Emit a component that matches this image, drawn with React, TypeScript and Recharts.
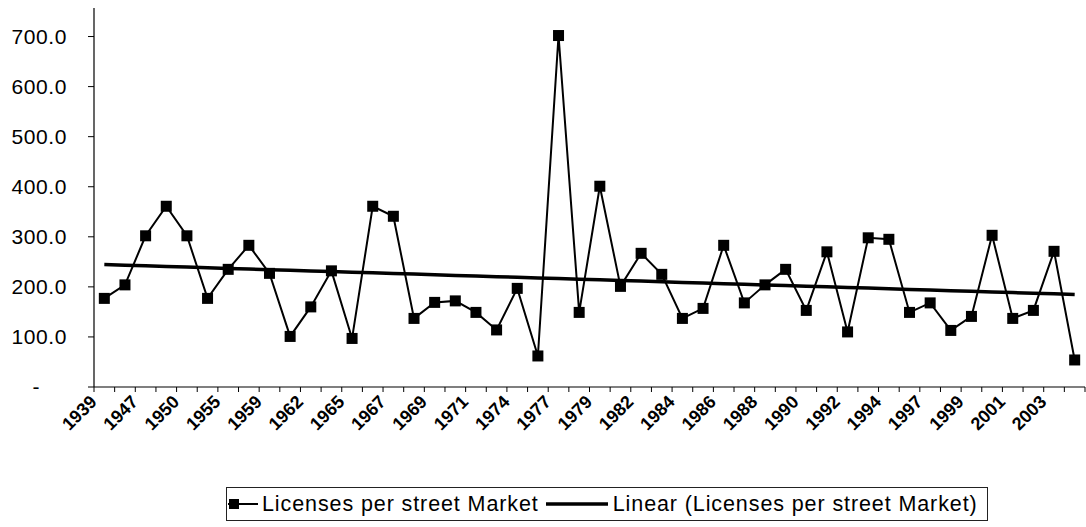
import React from "react";
import { LineChart, Line, XAxis, YAxis, Legend } from "recharts";

const years: string[] = [
  "1939", "1945", "1947", "1948", "1950", "1953", "1955", "1957", "1959", "1961",
  "1962", "1964", "1965", "1966", "1967", "1968", "1969", "1970", "1971", "1973",
  "1974", "1976", "1977", "1978", "1979", "1981", "1982", "1983", "1984", "1985",
  "1986", "1987", "1988", "1989", "1990", "1991", "1992", "1993", "1994", "1996",
  "1997", "1998", "1999", "2000", "2001", "2002", "2003", "2004",
];

const licenses: number[] = [
  177, 204, 302, 361, 302, 177, 235, 283, 227, 101,
  160, 232, 97, 361, 341, 137, 169, 172, 149, 114,
  197, 62, 702, 149, 401, 201, 267, 225, 137, 157,
  283, 168, 204, 235, 153, 270, 110, 298, 295, 149,
  168, 113, 141, 303, 137, 153, 271, 54,
];

const yTicks: number[] = [0, 100, 200, 300, 400, 500, 600, 700];
// category boundaries (Excel draws tick marks between categories)
const boundaryTicks: number[] = Array.from({ length: years.length + 1 }, (_, i) => i);

const SERIES_NAME = "Licenses per street Market";
const TREND_NAME = "Linear (Licenses per street Market)";

// least-squares linear trend (as Excel's "Linear" trendline)
const n = licenses.length;
const meanX = (n - 1) / 2;
const meanY = licenses.reduce((a, b) => a + b, 0) / n;
let sxy = 0;
let sxx = 0;
licenses.forEach((v, i) => {
  sxy += (i - meanX) * (v - meanY);
  sxx += (i - meanX) * (i - meanX);
});
const slope = sxy / sxx;
const intercept = meanY - slope * meanX;

// each category sits in the middle of its slot [i, i+1]
const data = years.map((year, i) => ({
  year,
  pos: i + 0.5,
  value: licenses[i],
  trend: intercept + slope * i,
}));

const FONT = "'Liberation Sans', Arial, Helvetica, sans-serif";
const CHART_W = 1086;
const MARGIN = { top: 8, right: 1, left: 0, bottom: 46 };
const Y_AXIS_W = 94;
const SLOT_W = (CHART_W - MARGIN.left - MARGIN.right - Y_AXIS_W) / years.length;

const SquareDot = (props: any) => {
  const { cx, cy, index } = props;
  if (cx == null || cy == null) return <g key={`d-${index}`} />;
  return <rect key={`d-${index}`} x={cx - 5.5} y={cy - 5.5} width={11} height={11} fill="#000" />;
};

const YTick = (props: any) => {
  const { x, y, payload } = props;
  const isZero = payload.value === 0;
  const label = isZero ? "-" : payload.value.toFixed(1);
  return (
    <text
      x={isZero ? x - 27 : x}
      y={y}
      dy={7}
      textAnchor="end"
      fontSize={21}
      fontFamily={FONT}
      letterSpacing={0.6}
      fill="#000"
    >
      {label}
    </text>
  );
};

const XTick = (props: any) => {
  const { x, y, payload } = props;
  const k = Math.round(payload.value);
  if (k % 2 !== 0 || k >= years.length) return <g />;
  const cx = x + SLOT_W / 2 - 6.5;
  const cy = y + 11;
  return (
    <g transform={`translate(${cx}, ${cy}) rotate(-45)`}>
      <text
        x={0}
        y={0}
        textAnchor="end"
        fontSize={18}
        fontWeight="bold"
        fontFamily={FONT}
        fill="#000"
      >
        {years[k]}
      </text>
    </g>
  );
};

const LegendContent = () => (
  <div
    style={{
      boxSizing: "border-box",
      width: 762,
      height: 34,
      border: "1px solid #222",
      display: "flex",
      alignItems: "center",
      paddingLeft: 1,
      fontFamily: FONT,
      fontSize: 21.5,
      letterSpacing: 0.9,
      color: "#000",
      whiteSpace: "nowrap",
      background: "#fff",
    }}
  >
    <svg width={30} height={14} style={{ flex: "none" }}>
      <line x1={0} y1={7} x2={30} y2={7} stroke="#000" strokeWidth={2} />
      <rect x={1} y={2} width={10} height={10} fill="#000" />
    </svg>
    <span style={{ marginLeft: 4 }}>{SERIES_NAME}</span>
    <svg width={62} height={14} style={{ flex: "none", marginLeft: 7 }}>
      <line x1={0} y1={7} x2={62} y2={7} stroke="#000" strokeWidth={3.5} />
    </svg>
    <span style={{ marginLeft: 5 }}>{TREND_NAME}</span>
  </div>
);

export default function App() {
  return (
    <div style={{ position: "absolute", left: 0, top: 0, width: CHART_W, height: 527, background: "#fff" }}>
      <LineChart width={CHART_W} height={527} data={data} margin={MARGIN}>
        <XAxis
          dataKey="pos"
          type="number"
          domain={[0, years.length]}
          ticks={boundaryTicks}
          interval={0}
          allowDataOverflow
          height={60}
          tickSize={5}
          tickMargin={0}
          tickLine={{ stroke: "#000", strokeWidth: 1 }}
          axisLine={{ stroke: "#000", strokeWidth: 1.2 }}
          tick={<XTick />}
        />
        <YAxis
          width={Y_AXIS_W}
          domain={[0, 757]}
          ticks={yTicks}
          allowDataOverflow
          tickSize={6}
          tickMargin={21}
          tickLine={{ stroke: "#000", strokeWidth: 1 }}
          axisLine={{ stroke: "#000", strokeWidth: 1.2 }}
          tick={<YTick />}
        />
        <Line
          type="linear"
          dataKey="value"
          name={SERIES_NAME}
          stroke="#000"
          strokeWidth={2}
          dot={SquareDot}
          activeDot={false}
          isAnimationActive={false}
        />
        <Line
          type="linear"
          dataKey="trend"
          name={TREND_NAME}
          stroke="#000"
          strokeWidth={3.5}
          dot={false}
          activeDot={false}
          isAnimationActive={false}
        />
        <Legend
          verticalAlign="bottom"
          content={<LegendContent />}
          wrapperStyle={{ position: "absolute", left: 226, top: 487, width: 762, height: 34 }}
        />
      </LineChart>
    </div>
  );
}
